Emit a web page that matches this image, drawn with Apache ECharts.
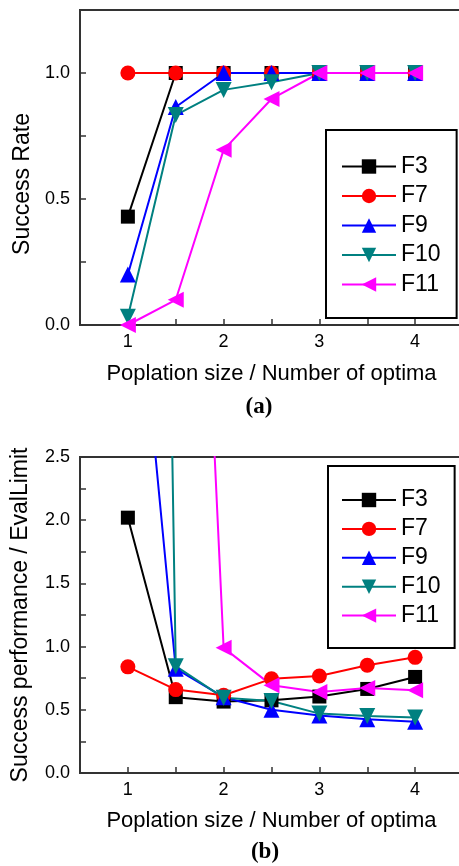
<!DOCTYPE html>
<html>
<head>
<meta charset="utf-8">
<script src="https://cdn.jsdelivr.net/npm/echarts@6/dist/echarts.min.js"></script>
<style>
  html, body { margin: 0; padding: 0; background: #fff; }
  #chart { width: 459px; height: 866px; }
</style>
</head>
<body>
<div id="chart"></div>
<script>
// x = population size / number of optima
const xVals = [1, 1.5, 2, 2.5, 3, 3.5, 4];
const names = ['F3', 'F7', 'F9', 'F10', 'F11'];

// (a) success rate
const rateF3  = [0.43, 1, 1, 1, 1, 1, 1];
const rateF7  = [1, 1, 1, 1, 1, 1, 1];
const rateF9  = [0.2, 0.865, 1, 1, 1, 1, 1];
const rateF10 = [0.033, 0.833, 0.933, 0.963, 1, 1, 1];
const rateF11 = [0, 0.1, 0.695, 0.897, 1, 1, 1];

// (b) success performance / EvalLimit (values above 2.5 run off the top)
const perfF3  = [2.02, 0.60, 0.565, 0.575, 0.605, 0.665, 0.76];
const perfF7  = [0.84, 0.66, 0.615, 0.745, 0.767, 0.852, 0.915];
const perfF9  = [4.8, 0.825, 0.60, 0.50, 0.455, 0.425, 0.405];
const perfF10 = [24, 0.845, 0.595, 0.57, 0.47, 0.45, 0.44];
const perfF11 = [null, 9.1, 0.99, 0.695, 0.64, 0.672, 0.655];

const colors = ['#000000', '#ff0000', '#0000ff', '#008080', '#ff00ff'];
const symbols = ['rect', 'circle', 'triangle',
  'path://M0,0L10,0L5,8.66Z', 'path://M0,5L8.66,0L8.66,10Z'];
const symSizes = [14, 15, 16, 16, 16];

const font = 'Liberation Sans, Arial, sans-serif';

function pairs(ys) {
  return xVals.map((x, i) => [x, ys[i]]);
}

function makeSeries(list, idx) {
  return list.map((ys, i) => ({
    name: names[i],
    type: 'line',
    xAxisIndex: idx,
    yAxisIndex: idx,
    data: pairs(ys),
    symbol: symbols[i],
    symbolSize: symSizes[i],
    showAllSymbol: true,
    lineStyle: { color: colors[i], width: 2 },
    itemStyle: { color: colors[i] },
    emphasis: { disabled: true },
    animation: false
  }));
}

function xAxisOpt(idx, gap) {
  return {
    gridIndex: idx,
    type: 'value',
    min: 0.5, max: 4.5, interval: 0.5,
    name: 'Poplation size / Number of optima',
    nameLocation: 'middle',
    nameGap: gap,
    nameTextStyle: { fontSize: 22, color: '#000', fontFamily: font },
    axisLine: { onZero: false, lineStyle: { color: '#333', width: 2 } },
    axisTick: { inside: true, length: 6, lineStyle: { color: '#333', width: 1.5 } },
    axisLabel: {
      fontSize: 18, color: '#000', fontFamily: font, margin: 8,
      formatter: v => Number.isInteger(v) ? String(v) : ''
    },
    splitLine: { show: false }
  };
}

function yAxisOpt(idx, max, name, gap, pad) {
  return {
    gridIndex: idx,
    type: 'value',
    min: 0, max: max, interval: 0.25,
    name: name,
    nameLocation: 'middle',
    nameGap: gap,
    nameTextStyle: { fontSize: 23, color: '#000', fontFamily: font, padding: pad },
    axisLine: { lineStyle: { color: '#333', width: 2 } },
    axisTick: { inside: true, length: 6, lineStyle: { color: '#333', width: 1.5 } },
    axisLabel: {
      fontSize: 18, color: '#000', fontFamily: font, margin: 10,
      formatter: v => (Math.abs(v * 2 - Math.round(v * 2)) < 1e-9) ? v.toFixed(1) : ''
    },
    splitLine: { show: false }
  };
}

function legendOpt(left, top, gap, pad) {
  return {
    data: names,
    orient: 'vertical',
    left: left, top: top,
    itemWidth: 54, itemHeight: 18,
    itemGap: gap,
    padding: pad,
    borderColor: '#000', borderWidth: 2,
    selectedMode: false,
    textStyle: { fontSize: 23, color: '#000', fontFamily: font, lineHeight: 23 }
  };
}

const serifBold = 'Liberation Serif, Times New Roman, serif';

const chart = echarts.init(document.getElementById('chart'));
chart.setOption({
  animation: false,
  grid: [
    { left: 80, top: 10, width: 383, height: 315, show: true, borderColor: '#333', borderWidth: 2,
      outerBoundsMode: 'none', containLabel: false },
    { left: 80, top: 457, width: 383, height: 316, show: true, borderColor: '#333', borderWidth: 2,
      outerBoundsMode: 'none', containLabel: false }
  ],
  xAxis: [xAxisOpt(0, 38), xAxisOpt(1, 37)],
  yAxis: [
    yAxisOpt(0, 1.25, 'Success Rate', 44, [0, 33, 0, 0]),
    yAxisOpt(1, 2.5, 'Success performance / EvalLimit', 48, 0)
  ],
  legend: [
    legendOpt(326, 130, 6.5, [25, 16, 22, 15]),
    legendOpt(328, 466, 5.9, [22.5, 14, 21, 13])
  ],
  graphic: [
    { type: 'text', x: 259, y: 407, style: { text: '(a)', fontSize: 23, fontWeight: 'bold',
      fontFamily: serifBold, fill: '#000', textAlign: 'center', textVerticalAlign: 'middle' } },
    { type: 'text', x: 265, y: 852, style: { text: '(b)', fontSize: 23, fontWeight: 'bold',
      fontFamily: serifBold, fill: '#000', textAlign: 'center', textVerticalAlign: 'middle' } }
  ],
  series: makeSeries([rateF3, rateF7, rateF9, rateF10, rateF11], 0)
    .concat(makeSeries([perfF3, perfF7, perfF9, perfF10, perfF11], 1))
});
</script>
</body>
</html>
